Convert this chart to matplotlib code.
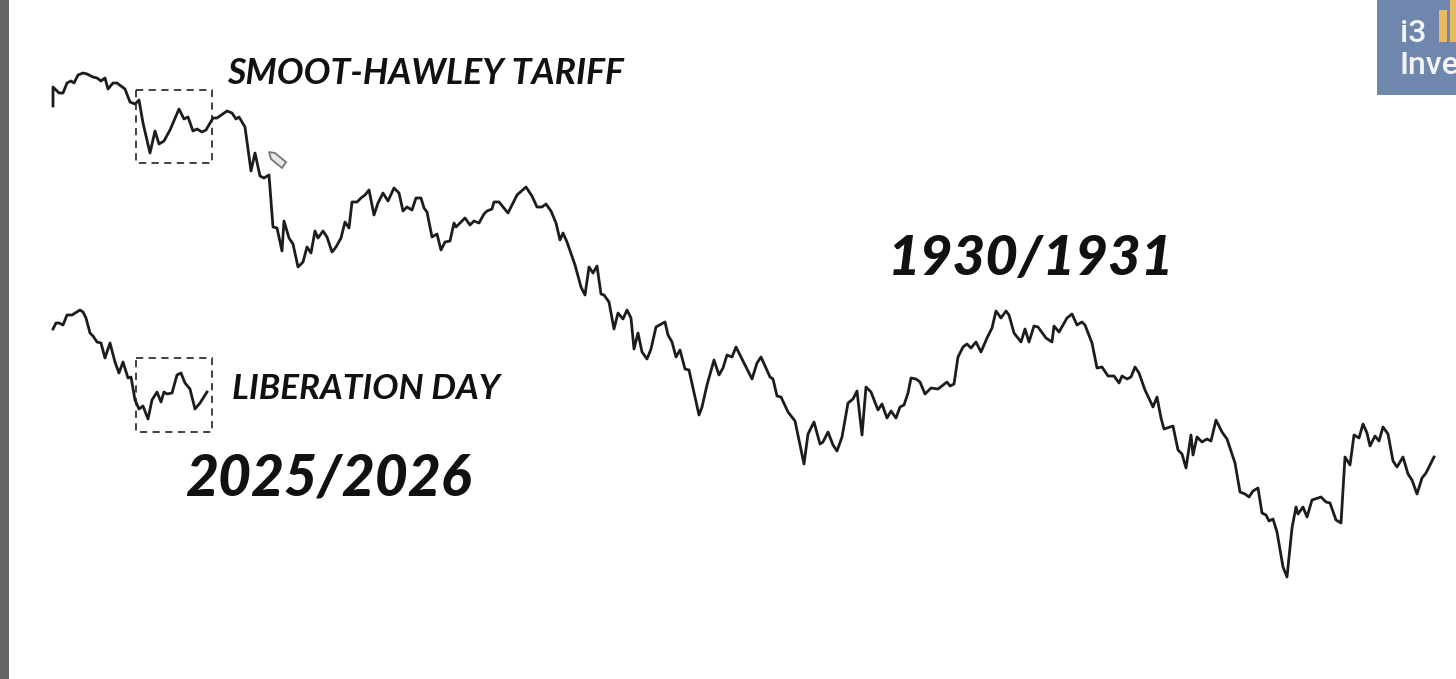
import matplotlib
matplotlib.use('Agg')
import matplotlib.pyplot as plt
from matplotlib.patches import Rectangle, Polygon

# values, in picture units (y grows downwards)
x_1930 = [53, 53, 57, 59, 63, 67, 71, 74, 78, 83, 87, 93, 97, 101, 105, 108, 113, 117, 121, 125, 130, 135, 139, 143, 150, 155, 159, 164, 170, 179, 184, 188, 193, 197, 202, 206, 213, 217, 227, 232, 236, 239, 245, 251, 255, 260, 264, 269, 273, 277, 282, 284, 289, 293,
          298, 303, 307, 311, 315, 318, 323, 327, 332, 336, 341, 345, 349, 352, 357, 361, 365, 369, 374, 378, 383, 388, 394, 399, 403, 407, 412, 416, 421, 424, 427, 432, 437, 441, 445, 450, 454, 456, 461, 465, 470, 474, 479, 484, 487, 492, 494, 499, 508, 517, 526, 532, 537, 542, 546, 551, 556, 560, 563, 567, 575, 581, 585, 589, 593, 597, 601, 604,
          609, 614, 618, 623, 627, 631, 634, 638, 642, 647, 651, 656, 665, 668, 672, 676, 680, 685, 689, 699, 702, 707, 714, 719, 723, 727, 732, 736, 752, 757, 761, 770, 773, 777, 781, 788, 795, 804, 808, 814, 820, 823, 828, 833, 837, 842, 848, 853, 857, 862, 866, 871, 878, 882, 887, 891, 896,
          900, 904, 908, 911, 916, 920, 925, 931, 938, 947, 950, 954, 958, 963, 967, 971, 976, 981, 987, 992, 996, 1001, 1006, 1009, 1014, 1021, 1025, 1029, 1034, 1038, 1046, 1052, 1054, 1059, 1067, 1072, 1077, 1082, 1085, 1092, 1097, 1102, 1108, 1114, 1119, 1122, 1127, 1131, 1135, 1139, 1145, 1153, 1157, 1161, 1164,
          1173, 1178, 1182, 1186, 1191, 1193, 1197, 1202, 1207, 1211, 1216, 1222, 1227, 1235, 1240, 1245, 1249, 1253, 1258, 1262, 1266, 1269, 1273, 1277, 1283, 1287, 1292, 1296, 1298, 1303, 1307, 1312, 1321, 1326, 1330, 1336, 1341, 1345, 1350, 1354, 1359, 1363, 1367, 1370, 1375, 1379, 1383, 1388, 1393, 1397, 1403, 1408, 1412, 1417, 1422, 1426, 1434]
y_1930 = [106, 87, 91, 93, 93, 83, 81, 83, 75, 73, 74, 77, 78, 81, 78, 89, 83, 83, 86, 89, 102, 104, 100, 123, 153, 131, 144, 141, 130, 109, 119, 117, 131, 129, 132, 130, 118, 118, 111, 113, 119, 117, 127, 171, 153, 176, 178, 175, 227, 228, 251, 221, 238, 244,
          267, 262, 247, 253, 231, 238, 231, 237, 252, 247, 238, 222, 228, 202, 202, 198, 195, 190, 215, 203, 193, 201, 188, 193, 211, 207, 210, 198, 198, 208, 212, 237, 234, 250, 242, 241, 223, 227, 222, 218, 225, 221, 223, 214, 211, 209, 202, 202, 213, 195, 187, 196, 207, 207, 204, 211, 223, 240, 233, 242, 265, 287, 295, 267, 273, 266, 294, 295,
          302, 329, 313, 319, 310, 318, 349, 333, 352, 359, 349, 327, 322, 335, 342, 357, 350, 369, 370, 415, 407, 385, 360, 375, 368, 355, 357, 347, 379, 363, 357, 377, 379, 396, 397, 412, 421, 464, 434, 422, 444, 442, 432, 445, 451, 437, 403, 399, 391, 435, 387, 392, 410, 404, 418, 411, 418,
          407, 405, 393, 378, 379, 382, 394, 388, 389, 382, 386, 384, 357, 347, 344, 348, 342, 352, 338, 328, 311, 318, 311, 315, 333, 342, 329, 342, 326, 327, 338, 342, 326, 332, 318, 314, 325, 322, 325, 343, 368, 367, 376, 376, 383, 376, 379, 377, 367, 373, 390, 407, 397, 418, 429,
          426, 450, 454, 468, 435, 455, 437, 442, 439, 441, 420, 432, 439, 463, 492, 494, 497, 491, 488, 513, 515, 521, 519, 532, 567, 577, 528, 507, 514, 507, 517, 500, 497, 502, 503, 520, 523, 457, 465, 435, 438, 424, 433, 446, 436, 441, 427, 434, 461, 467, 457, 474, 480, 494, 478, 473, 457]

x_2025 = [53, 56, 59, 63, 67, 72, 80, 83, 86, 90, 93, 97, 101, 105, 110, 115, 119, 123, 128, 131, 135, 139, 143, 148, 152, 157, 161, 164, 167, 172, 177, 181, 185, 190, 195, 200, 207]
y_2025 = [329, 323, 323, 325, 315, 315, 310, 312, 318, 333, 336, 342, 343, 358, 343, 362, 373, 362, 378, 377, 400, 409, 406, 419, 400, 392, 402, 392, 394, 393, 375, 373, 383, 389, 409, 403, 392]

# dashed selection boxes: left, top, width, height
box_top = (136, 90, 76, 73)
box_bottom = (136, 358, 76, 74)

pencil_x = [269, 275, 286, 282, 271]
pencil_y = [152, 153, 162, 168, 159]

LINE = '#1c1c1c'
FONT = 'Lato'

fig = plt.figure(figsize=(14.56, 6.79), dpi=100)
ax = fig.add_axes([0, 0, 1, 1])
ax.set_xlim(0, 1456)
ax.set_ylim(679, 0)
ax.axis('off')

# grey strip on the left edge
ax.add_patch(Rectangle((0, 0), 8.5, 679, color='#666666', lw=0))

ax.plot(x_1930, y_1930, color=LINE, lw=2.0, solid_joinstyle='round')
ax.plot(x_2025, y_2025, color=LINE, lw=2.0, solid_joinstyle='round')

for left, top, w, h in (box_top, box_bottom):
    ax.add_patch(Rectangle((left, top), w, h, fill=False, ec='#333333', lw=1.3, ls=(0, (4, 3))))

# little pencil cursor
ax.add_patch(Polygon(list(zip(pencil_x, pencil_y)), closed=True, fc='#e8e8e8', ec='#777777', lw=1.3))

ax.text(227, 74, 'SMOOT-HAWLEY TARIFF', fontsize=25.7, family=FONT, weight='bold', style='italic', va='center', ha='left', color='#111111')
ax.text(232, 389, 'LIBERATION DAY', fontsize=25.2, family=FONT, weight='bold', style='italic', va='center', ha='left', color='#111111')
ax.text(888, 259, '1930/1931', fontsize=40.6, family=FONT, weight='black', style='italic', va='center', ha='left', color='#111111')
ax.text(185, 479, '2025/2026', fontsize=41, family=FONT, weight='black', style='italic', va='center', ha='left', color='#111111')

# logo block, cut off by the right edge
ax.add_patch(Rectangle((1377, 0), 79, 95, color='#6f86ad', lw=0))
ax.add_patch(Rectangle((1439, 10), 8, 32, color='#e8bb63', lw=0))
ax.add_patch(Rectangle((1450, 0), 6, 42, color='#e8bb63', lw=0))
ax.text(1400, 33, 'i3', fontsize=23, family='Roboto', weight='medium', color='#f2f4f8', va='center', ha='left', clip_on=True)
ax.text(1400, 66, 'Inve', fontsize=23, family='Roboto', weight='medium', color='#f2f4f8', va='center', ha='left', clip_on=True)

fig.savefig('out.png', dpi=100, facecolor='white')
